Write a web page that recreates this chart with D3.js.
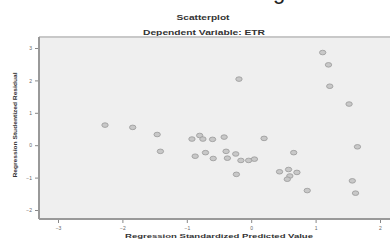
<!DOCTYPE html>
<html>
<head>
<meta charset="utf-8">
<script src="https://cdn.jsdelivr.net/npm/d3@7"></script>
<style>
  body { margin: 0; background: #fff; }
  text { font-family: "Liberation Sans", Arial, sans-serif; }
</style>
</head>
<body>
<div id="grafico"></div>
<script>
// Valores
const predicted = [-2.27, -1.84, -1.46, -1.41, -0.92, -0.80, -0.75, -0.60, -0.42, -0.87,
  -0.71, -0.59, -0.39, -0.37, -0.19, -0.24, -0.16, -0.04, 0.05, -0.23,
  0.20, 0.66, 0.44, 0.58, 0.60, 0.56, 0.71, 0.87, 1.11, 1.20,
  1.22, 1.52, 1.65, 1.57, 1.62]
const residual = [0.62, 0.55, 0.33, -0.19, 0.19, 0.30, 0.19, 0.18, 0.25, -0.34,
  -0.23, -0.41, -0.19, -0.40, 2.04, -0.27, -0.47, -0.47, -0.43, -0.90,
  0.21, -0.23, -0.82, -0.75, -0.95, -1.05, -0.84, -1.40, 2.86, 2.48,
  1.82, 1.27, -0.05, -1.10, -1.48]
const xTicks = [-3, -2, -1, 0, 1, 2]
const yTicks = [-2, -1, 0, 1, 2, 3]

const W = 390, H = 240
const plot = {left: 39, top: 37, right: 392, bottom: 219}

const svg = d3.select("#grafico")
  .append("svg")
    .attr("width", W)
    .attr("height", H)

// Fragmento de texto cortado no topo (como na imagem original)
svg.append("text")
  .attr("x", 279)
  .attr("y", -1)
  .attr("text-anchor", "middle")
  .attr("font-family", "Liberation Serif, serif")
  .attr("font-size", "22px")
  .attr("fill", "#222")
  .text("g")

// Títulos
svg.append("text")
  .attr("x", 203).attr("y", 20)
  .attr("text-anchor", "middle")
  .attr("font-size", "7px").attr("font-weight", "bold").attr("fill", "#333")
  .attr("textLength", 53).attr("lengthAdjust", "spacingAndGlyphs")
  .text("Scatterplot")

svg.append("text")
  .attr("x", 204).attr("y", 35)
  .attr("text-anchor", "middle")
  .attr("font-size", "7px").attr("font-weight", "bold").attr("fill", "#333")
  .attr("textLength", 122).attr("lengthAdjust", "spacingAndGlyphs")
  .text("Dependent Variable: ETR")

// Escalas
const x = d3.scaleLinear().domain([-3, 2]).range([58, 380])
const y = d3.scaleLinear().domain([-2, 3]).range([210, 48])

// Fundo da área do gráfico
svg.append("rect")
  .attr("x", plot.left).attr("y", plot.top)
  .attr("width", plot.right - plot.left).attr("height", plot.bottom - plot.top)
  .attr("fill", "#efefef")

// Bordas
svg.append("line")
  .attr("x1", plot.left).attr("x2", plot.right)
  .attr("y1", plot.top).attr("y2", plot.top)
  .attr("stroke", "#c8c8c8").attr("stroke-width", 2)
svg.append("line")
  .attr("x1", plot.left).attr("x2", plot.left)
  .attr("y1", plot.top).attr("y2", plot.bottom)
  .attr("stroke", "#999").attr("stroke-width", 2)
svg.append("line")
  .attr("x1", plot.left).attr("x2", plot.right)
  .attr("y1", plot.bottom).attr("y2", plot.bottom)
  .attr("stroke", "#999").attr("stroke-width", 2)

// Eixos
const xAxis = svg.append("g")
  .attr("transform", `translate(0,${plot.bottom + 1})`)
  .call(d3.axisBottom(x).tickValues(xTicks).tickSize(3).tickFormat(d3.format("d")))
const yAxis = svg.append("g")
  .attr("transform", `translate(${plot.left - 1},0)`)
  .call(d3.axisLeft(y).tickValues(yTicks).tickSize(3).tickFormat(d3.format("d")))

svg.selectAll(".domain").remove()
svg.selectAll(".tick line").attr("stroke", "#888")
svg.selectAll(".tick text").attr("font-size", "5px").attr("fill", "#666")
  .attr("font-family", "Liberation Sans, Arial, sans-serif")

// Rótulos dos eixos
svg.append("text")
  .attr("x", 219).attr("y", 238)
  .attr("text-anchor", "middle")
  .attr("font-size", "6px").attr("font-weight", "bold").attr("fill", "#333")
  .attr("textLength", 188).attr("lengthAdjust", "spacingAndGlyphs")
  .text("Regression Standardized Predicted Value")

svg.append("text")
  .attr("transform", "translate(17,125) rotate(-90)")
  .attr("text-anchor", "middle")
  .attr("font-size", "6px").attr("font-weight", "bold").attr("fill", "#333")
  .attr("textLength", 105).attr("lengthAdjust", "spacingAndGlyphs")
  .text("Regression Studentized Residual")

// Pontos
svg.append("g").selectAll("ellipse")
  .data(d3.range(predicted.length))
  .join("ellipse")
    .attr("cx", i => x(predicted[i]))
    .attr("cy", i => y(residual[i]))
    .attr("rx", 3.2)
    .attr("ry", 2.3)
    .attr("fill", "#c8c8c8")
    .attr("stroke", "#999")
    .attr("stroke-width", 0.8)
</script>
</body>
</html>
